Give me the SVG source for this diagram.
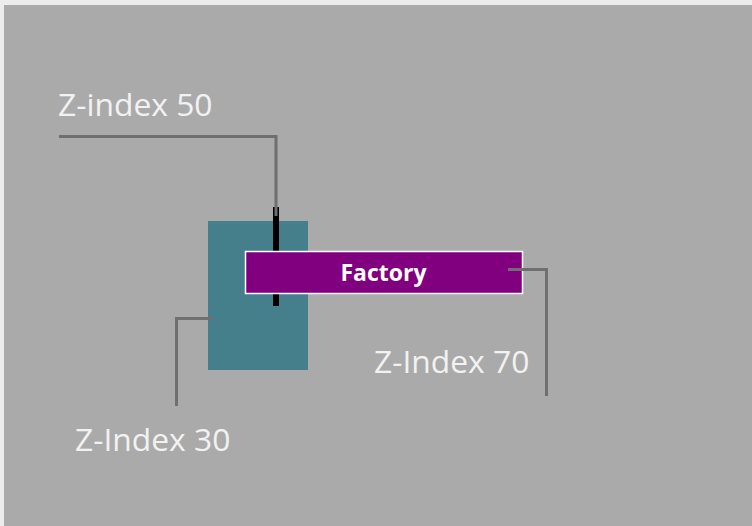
<svg xmlns="http://www.w3.org/2000/svg" width="752" height="526" viewBox="0 0 752 526">
<style>
.lbl{font-family:"Open Sans","Noto Sans",sans-serif;font-size:31.8px;fill:#f2f2f2}
.ln{fill:none;stroke:#6f6f6f;stroke-width:3}
.title{font-family:"Open Sans","Noto Sans",sans-serif;font-size:23px;font-weight:bold;fill:#ffffff}
</style>
<rect x="0" y="0" width="752" height="526" fill="#ececec"/>
<rect x="4" y="5" width="748" height="521" fill="#aaaaaa"/>
<g id="teal-box">
<rect x="208" y="221" width="100" height="149" fill="#467f8c"/>
</g>
<g id="black-bar">
<rect x="273" y="207" width="6" height="99" fill="#000000"/>
</g>
<g id="factory">
<rect x="245.5" y="251.5" width="277" height="42" fill="#800080" stroke="#ffffff" stroke-width="1.5"/>
<text class="title" x="383.5" y="281" text-anchor="middle">Factory</text>
</g>
<g id="connectors">
<polyline class="ln" points="59,136.5 276,136.5 276,216"/>
<polyline class="ln" points="213,318.5 176.5,318.5 176.5,406"/>
<polyline class="ln" points="508,269.5 546.5,269.5 546.5,396"/>
</g>
<g id="label-50"><text class="lbl" x="58" y="116">Z-index 50</text></g>
<g id="label-70"><text class="lbl" x="374" y="373">Z-Index 70</text></g>
<g id="label-30"><text class="lbl" x="75" y="451">Z-Index 30</text></g>
</svg>
